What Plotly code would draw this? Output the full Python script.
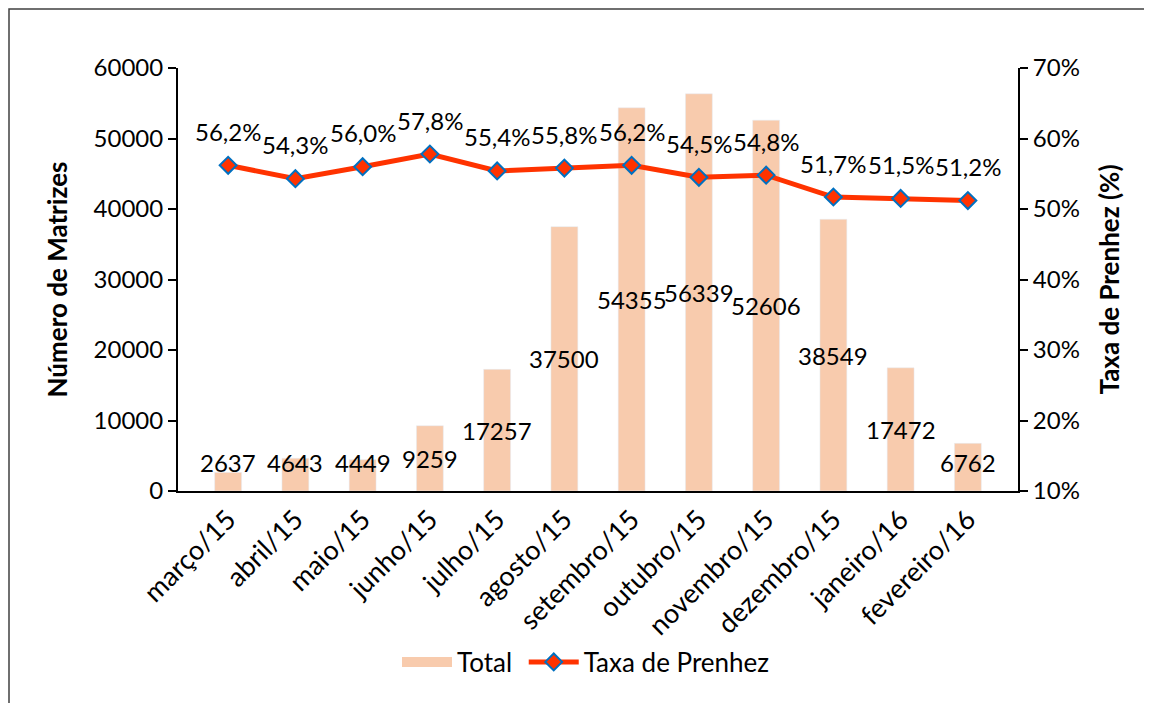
import plotly.graph_objects as go

months = ["março/15", "abril/15", "maio/15", "junho/15", "julho/15", "agosto/15",
          "setembro/15", "outubro/15", "novembro/15", "dezembro/15", "janeiro/16", "fevereiro/16"]
total = [2637, 4643, 4449, 9259, 17257, 37500, 54355, 56339, 52606, 38549, 17472, 6762]
taxa = [56.2, 54.3, 56.0, 57.8, 55.4, 55.8, 56.2, 54.5, 54.8, 51.7, 51.5, 51.2]

FONT = "Lato, 'Open Sans', sans-serif"
OFF = 8  # default body margin of the html page
W, H = 1152 - OFF, 703 - OFF
# target page pixel positions of the plot area
L, R, T, B = 178 - OFF, 1018 - OFF, 68 - OFF, 491 - OFF
BAR = "#F8CBAD"

fig = go.Figure()
fig.add_trace(go.Bar(
    x=months, y=total, name="Total", marker_color=BAR,
    width=0.4, yaxis="y", showlegend=False))
# legend proxy for the bar series (wide rectangular swatch)
fig.add_trace(go.Scatter(
    x=[None], y=[None], name="Total ", mode="lines",
    line=dict(color=BAR, width=17), yaxis="y"))
fig.add_trace(go.Scatter(
    x=months, y=[v / 100 for v in taxa], name="Taxa de Prenhez", yaxis="y2",
    mode="lines+markers",
    line=dict(color="#FF3300", width=5),
    marker=dict(symbol="diamond", size=13, color="#FF3300",
                line=dict(color="#0070C0", width=2))))

annotations = []
for m, v in zip(months, total):
    annotations.append(dict(x=m, y=max(v / 2, 4000), xref="x", yref="y", text=str(v),
                            showarrow=False, font=dict(size=24, color="black", family=FONT)))
for m, v in zip(months, taxa):
    annotations.append(dict(x=m, y=v / 100, xref="x", yref="y2",
                            text=f"{v:.1f}".replace(".", ",") + "%", yshift=34,
                            showarrow=False, font=dict(size=24, color="black", family=FONT)))

pw, ph = R - L, B - T
def px(x):
    return (x - OFF - L) / pw
def py(y):
    return (B - (y - OFF)) / ph

fig.update_layout(
    width=W, height=H,
    margin=dict(l=L, r=W - R, t=T, b=H - B, pad=0),
    paper_bgcolor="white", plot_bgcolor="white",
    separators=",.",
    font=dict(family=FONT, size=22, color="black"),
    xaxis=dict(showline=True, linecolor="black", linewidth=2, ticks="",
               tickangle=-45, tickfont=dict(size=27), showgrid=False),
    yaxis=dict(range=[0, 60000], dtick=10000, tickformat="d", showgrid=False,
               showline=True, linecolor="black", linewidth=2,
               ticks="outside", ticklen=8, tickwidth=1.5, tickcolor="black",
               tickfont=dict(size=24), zeroline=False,
               title=dict(text="<b>Número de Matrizes</b>", font=dict(size=26), standoff=18)),
    yaxis2=dict(range=[0.1, 0.7], dtick=0.1, tickformat=".0%", overlaying="y", side="right",
                showgrid=False, showline=True, linecolor="black", linewidth=2,
                ticks="outside", ticklen=8, tickwidth=1.5, tickcolor="black",
                tickfont=dict(size=24), zeroline=False,
                title=dict(text="<b>Taxa de Prenhez (%)</b>", font=dict(size=26), standoff=22)),
    legend=dict(orientation="h", x=px(586), y=py(662), xanchor="center", yanchor="middle",
                font=dict(size=26), itemwidth=50),
    annotations=annotations,
    shapes=[dict(type="rect", xref="paper", yref="paper",
                 x0=px(9), x1=px(1180), y0=py(730), y1=py(9),
                 line=dict(color="#404040", width=1.5), layer="below")],
)

fig.write_html("out.html")
